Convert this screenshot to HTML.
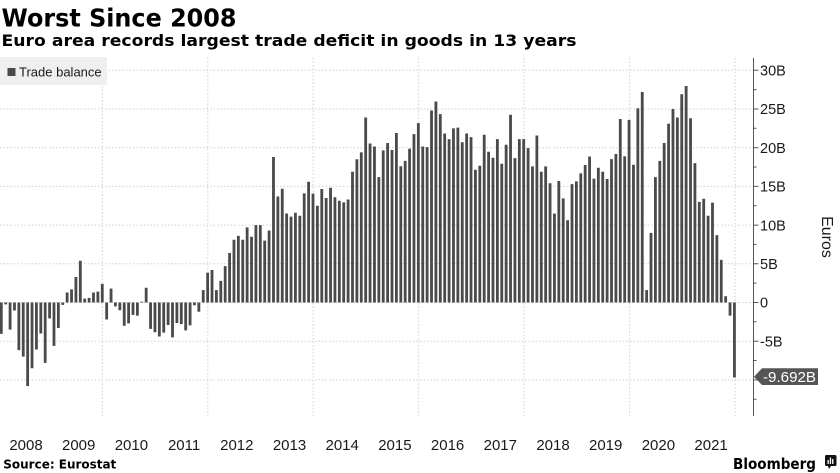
<!DOCTYPE html>
<html>
<head>
<meta charset="utf-8">
<style>
html,body{margin:0;padding:0;background:#fff;}
body{width:840px;height:473px;overflow:hidden;}
svg{display:block;}
.t{font-family:"DejaVu Sans","Liberation Sans",sans-serif;font-weight:bold;fill:#000;}
.l{font-family:"Liberation Sans",sans-serif;fill:#1a1a1a;}
</style>
</head>
<body>
<svg width="840" height="473" viewBox="0 0 840 473" xmlns="http://www.w3.org/2000/svg">
<rect x="0" y="0" width="840" height="473" fill="#fff"/>
<text class="t" x="1.5" y="26.5" font-size="25" textLength="235" lengthAdjust="spacingAndGlyphs">Worst Since 2008</text>
<text class="t" x="1.5" y="46" font-size="16" textLength="575" lengthAdjust="spacingAndGlyphs">Euro area records largest trade deficit in goods in 13 years</text>

<path d="M0 70.3H753M0 109H753M0 147.7H753M0 186.4H753M0 225.1H753M0 263.8H753M0 302.5H753M0 341.2H753M0 379.9H753M102.3 58V416M207.8 58V416M313.2 58V416M418.7 58V416M524.1 58V416M629.6 58V416M735 58V416" stroke="#cfcfcf" stroke-width="1" stroke-dasharray="1.5,2" fill="none"/>

<rect x="0" y="57" width="107" height="28" fill="#efefef"/>
<rect x="7.5" y="68" width="8" height="8" fill="#4a4a4a"/>
<text class="l" x="19" y="76.3" font-size="13">Trade balance</text>

<g transform="translate(1.3,302.5) scale(4.39,-7.74)">
<path fill="#4a4a4a" d="M-0.32 0
v-4.06h.64v4.06zm1 0v-.25h.64v.25zm1 0v-3.5h.64v3.5zm1 0v-1.03h.64v1.03zm1 0v-6.15h.64v6.15zm1 0v-7h.64v7zm1 0v-10.8h.64v10.8zm1 0v-8.5h.64v8.5zm1 0v-6.07h.64v6.07zm1 0v-4h.64v4zm1 0v-7.8h.64v7.8zm1 0v-2.05h.64v2.05zm1 0
v-5.6h.64v5.6zm1 0v-3.3h.64v3.3zm1 0v-.3h.64v.3zm1 0v1.3h.64v-1.3zm1 0v1.7h.64v-1.7zm1 0v3.3h.64v-3.3zm1 0v5.4h.64v-5.4zm1 0v.5h.64v-.5zm1 0v.6h.64v-.6zm1 0v1.3h.64v-1.3zm1 0v1.4h.64v-1.4zm1 0v2.4h.64v-2.4zm1 0
v-2.2h.64v2.2zm1 0v1.8h.64v-1.8zm1 0v-.5h.64v.5zm1 0v-1h.64v1zm1 0v-3h.64v3zm1 0v-2.7h.64v2.7zm1 0v-1.6h.64v1.6zm1 0v-1.7h.64v1.7zm1 0v.12h.64v-.12zm1 0v1.9h.64v-1.9zm1 0v-3.4h.64v3.4zm1 0v-3.85h.64v3.85zm1 0
v-4.4h.64v4.4zm1 0v-3.9h.64v3.9zm1 0v-2.9h.64v2.9zm1 0v-4.5h.64v4.5zm1 0v-2.65h.64v2.65zm1 0v-2.8h.64v2.8zm1 0v-3.6h.64v3.6zm1 0v-2.95h.64v2.95zm1 0v-.35h.64v.35zm1 0v-1.2h.64v1.2zm1 0v1.6h.64v-1.6zm1 0v3.85h.64v-3.85zm1 0
v4.2h.64v-4.2zm1 0v1.6h.64v-1.6zm1 0v2.8h.64v-2.8zm1 0v4.7h.64v-4.7zm1 0v6.4h.64v-6.4zm1 0v8.1h.64v-8.1zm1 0v8.6h.64v-8.6zm1 0v8.1h.64v-8.1zm1 0v9.7h.64v-9.7zm1 0v8.5h.64v-8.5zm1 0v10h.64v-10zm1 0v10h.64v-10zm1 0
v8h.64v-8zm1 0v9.3h.64v-9.3zm1 0v18.8h.64v-18.8zm1 0v13.7h.64v-13.7zm1 0v14.7h.64v-14.7zm1 0v11.5h.64v-11.5zm1 0v11.1h.64v-11.1zm1 0v11.6h.64v-11.6zm1 0v11.2h.64v-11.2zm1 0v14.1h.64v-14.1zm1 0v15.6h.64v-15.6zm1 0v14.06h.64v-14.06zm1 0
v12.5h.64v-12.5zm1 0v14.66h.64v-14.66zm1 0v13.5h.64v-13.5zm1 0v14.83h.64v-14.83zm1 0v13.6h.64v-13.6zm1 0v13.15h.64v-13.15zm1 0v12.94h.64v-12.94zm1 0v13.3h.64v-13.3zm1 0v16.9h.64v-16.9zm1 0v18.5h.64v-18.5zm1 0v19.4h.64v-19.4zm1 0v23.9h.64v-23.9zm1 0
v20.55h.64v-20.55zm1 0v20.16h.64v-20.16zm1 0v16.2h.64v-16.2zm1 0v19.65h.64v-19.65zm1 0v20.6h.64v-20.6zm1 0v19.7h.64v-19.7zm1 0v21.9h.64v-21.9zm1 0v17.6h.64v-17.6zm1 0v18.3h.64v-18.3zm1 0v19.86h.64v-19.86zm1 0v21.75h.64v-21.75zm1 0v23.17h.64v-23.17zm1 0
v20.16h.64v-20.16zm1 0v20.08h.64v-20.08zm1 0v24.8h.64v-24.8zm1 0v25.97h.64v-25.97zm1 0v24.33h.64v-24.33zm1 0v21.84h.64v-21.84zm1 0v21.1h.64v-21.1zm1 0v22.5h.64v-22.5zm1 0v22.6h.64v-22.6zm1 0v20.7h.64v-20.7zm1 0v21.84h.64v-21.84zm1 0v21.37h.64v-21.37zm1 0
v17.15h.64v-17.15zm1 0v17.67h.64v-17.67zm1 0v21.67h.64v-21.67zm1 0v19.48h.64v-19.48zm1 0v18.7h.64v-18.7zm1 0v21.1h.64v-21.1zm1 0v17.93h.64v-17.93zm1 0v20.38h.64v-20.38zm1 0v24.25h.64v-24.25zm1 0v18.66h.64v-18.66zm1 0v21.1h.64v-21.1zm1 0v21.1h.64v-21.1zm1 0
v19.95h.64v-19.95zm1 0v17.58h.64v-17.58zm1 0v21.58h.64v-21.58zm1 0v16.9h.64v-16.9zm1 0v17.58h.64v-17.58zm1 0v15.4h.64v-15.4zm1 0v11.48h.64v-11.48zm1 0v15.7h.64v-15.7zm1 0v13.46h.64v-13.46zm1 0v10.62h.64v-10.62zm1 0v15.3h.64v-15.3zm1 0v15.65h.64v-15.65zm1 0
v16.68h.64v-16.68zm1 0v17.76h.64v-17.76zm1 0v18.87h.64v-18.87zm1 0v16h.64v-16zm1 0v17.41h.64v-17.41zm1 0v16.9h.64v-16.9zm1 0v15.95h.64v-15.95zm1 0v18.53h.64v-18.53zm1 0v19.18h.64v-19.18zm1 0v23.7h.64v-23.7zm1 0v18.88h.64v-18.88zm1 0v23.6h.64v-23.6zm1 0
v17.8h.64v-17.8zm1 0v25.1h.64v-25.1zm1 0v27.2h.64v-27.2zm1 0v1.6h.64v-1.6zm1 0v9h.64v-9zm1 0v16.2h.64v-16.2zm1 0v18.3h.64v-18.3zm1 0v20.6h.64v-20.6zm1 0v23.1h.64v-23.1zm1 0v25h.64v-25zm1 0v23.9h.64v-23.9zm1 0v26.9h.64v-26.9zm1 0
v27.97h.64v-27.97zm1 0v23.8h.64v-23.8zm1 0v18h.64v-18zm1 0v13h.64v-13zm1 0v13.4h.64v-13.4zm1 0v11.2h.64v-11.2zm1 0v12.9h.64v-12.9zm1 0v8.7h.64v-8.7zm1 0v5.5h.64v-5.5zm1 0v.8h.64v-.8zm1 0v-1.7h.64v1.7zm1 0v-9.692h.64v9.692z"/>
</g>

<path d="M753.5 58V416M753.5 70.3h5M753.5 109h5M753.5 147.7h5M753.5 186.4h5M753.5 225.1h5M753.5 263.8h5M753.5 302.5h5M753.5 341.2h5M753.5 379.9h5M753.5 89.6h3M753.5 128.3h3M753.5 167h3M753.5 205.7h3M753.5 244.4h3M753.5 283.1h3M753.5 321.8h3M753.5 360.5h3M753.5 399.2h3" stroke="#555" stroke-width="1" fill="none"/>
<g class="l" font-size="14.5">
<text x="760" y="75.5">30B</text>
<text x="760" y="114.2">25B</text>
<text x="760" y="152.9">20B</text>
<text x="760" y="191.6">15B</text>
<text x="760" y="230.3">10B</text>
<text x="760" y="269">5B</text>
<text x="760" y="307.7">0</text>
<text x="760" y="346.4">-5B</text>
</g>

<polygon points="754,376.7 762,368.3 818,368.3 818,385 762,385" fill="#555"/>
<text x="763" y="382" font-size="15" style="font-family:'Liberation Sans',sans-serif;fill:#fff" textLength="53" lengthAdjust="spacingAndGlyphs">-9.692B</text>

<text class="l" font-size="16" transform="translate(822,237) rotate(90)" text-anchor="middle">Euros</text>

<g class="l" font-size="15" text-anchor="middle">
<text x="26" y="450">2008</text>
<text x="78.7" y="450">2009</text>
<text x="131.4" y="450">2010</text>
<text x="184.1" y="450">2011</text>
<text x="236.8" y="450">2012</text>
<text x="289.5" y="450">2013</text>
<text x="342.2" y="450">2014</text>
<text x="394.9" y="450">2015</text>
<text x="447.6" y="450">2016</text>
<text x="500.3" y="450">2017</text>
<text x="553" y="450">2018</text>
<text x="605.7" y="450">2019</text>
<text x="658.4" y="450">2020</text>
<text x="711.1" y="450">2021</text>
</g>

<text class="t" x="3.3" y="468.5" font-size="12" textLength="113" lengthAdjust="spacingAndGlyphs">Source:  Eurostat</text>

<text class="t" x="733" y="469" font-size="15" textLength="83" lengthAdjust="spacingAndGlyphs">Bloomberg</text>
<rect x="825" y="455" width="11.5" height="11" rx="1.5" fill="#111"/>
<polygon points="828,466 831,466 829,469" fill="#111"/>
<path d="M827.5 460h1.3v4h-1.3zM829.8 457.5h1.3v6.5h-1.3zM832.1 459h1.3v5h-1.3z" fill="#fff"/>
</svg>
</body>
</html>
